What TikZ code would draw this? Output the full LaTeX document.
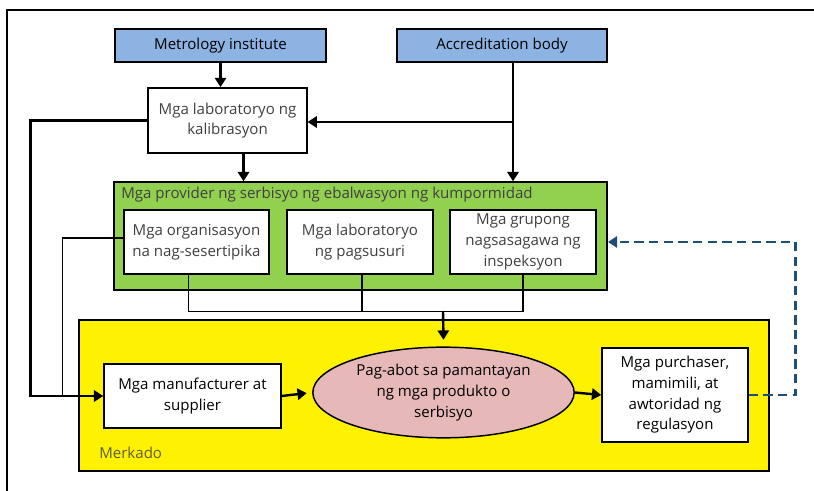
\documentclass[tikz,border=0pt]{standalone}
\usepackage{fontspec}
\setmainfont{Open Sans}
\usetikzlibrary{arrows.meta,positioning,shapes.geometric}
\definecolor{topblue}{HTML}{8DB3E2}
\definecolor{cabgreen}{HTML}{92D050}
\definecolor{ovalpink}{HTML}{E6B9B8}
\definecolor{dashblue}{HTML}{1F4E79}
\definecolor{txtgray}{HTML}{404040}
\begin{document}
\begin{tikzpicture}[x=0.75pt,y=-0.75pt,
    font=\fontsize{11.3}{15.5}\selectfont,
    topbox/.style={draw, line width=1.1pt, fill=topblue, minimum height=25pt},
    whitebox/.style={draw, line width=1.1pt, fill=white, align=center, text=txtgray, inner sep=2pt},
    arr/.style={line width=1.8pt, -{Triangle[length=7pt,width=8.5pt]}},
    joinline/.style={line width=1.1pt},
    dasharr/.style={dashblue, line width=1.9pt, dash pattern=on 7pt off 4pt, -{Triangle[length=7pt,width=8.5pt]}}]
    \useasboundingbox (0,0) rectangle (814,491);
    \fill[white] (0,0) rectangle (814,491);
    \draw[line width=0.8pt] (7,500) -- (7,10) -- (830,10);

    % top row
    \node[topbox, minimum width=158pt] (met) at (220.5,45.5) {Metrology institute};
    \node[topbox, minimum width=157.5pt] (acc) at (502,45.5) {Accreditation body};
    \node[whitebox, minimum width=119pt, minimum height=49pt] (cal) at (227.5,120.5) {Mga laboratoryo ng\\kalibrasyon};

    % provider group
    \node[draw, line width=1.1pt, fill=cabgreen, minimum width=370pt, minimum height=81pt] (prov) at (360.5,236) {};
    \node[anchor=west, text=txtgray, inner sep=0pt] (provtitle) at (121,195) {Mga provider ng serbisyo ng ebalwasyon ng kumpormidad};
    \node[whitebox, minimum width=109pt, minimum height=48pt] (org) at (196.5,242) {Mga organisasyon\\na nag-sesertipika};
    \node[whitebox, minimum width=109.5pt, minimum height=48pt] (test) at (360,242) {Mga laboratoryo\\ng pagsusuri};
    \node[whitebox, minimum width=109.5pt, minimum height=48pt] (insp) at (523,242) {Mga grupong\\nagsasagawa ng\\inspeksyon};

    % market
    \node[draw, line width=1.1pt, fill=yellow, minimum width=517.5pt, minimum height=113pt] (mkt) at (424,395.5) {};
    \node[anchor=west, text=txtgray!85!yellow, inner sep=0pt] (mktlabel) at (99,453) {Merkado};
    \node[whitebox, text=black, minimum width=132.75pt, minimum height=48pt] (manu) at (192.5,396) {Mga manufacturer at\\supplier};
    \node[ellipse, draw, line width=1.1pt, fill=ovalpink, align=center, inner sep=0pt,
          minimum width=196pt, minimum height=68pt] (oval) at (443.5,392.5) {Pag-abot sa pamantayan\\ng mga produkto o\\serbisyo};
    \node[whitebox, text=black, minimum width=109.5pt, minimum height=70.5pt] (purch) at (675,395) {Mga purchaser,\\mamimili, at\\awtoridad ng\\regulasyon};

    % connectors
    \coordinate (accj) at (513,122);
    \coordinate (bus) at (443,311);
    \draw[arr] (met.south) -- (met.south |- cal.north);
    \draw[line width=1.8pt] (acc.south -| accj) -- (accj);
    \draw[arr] (accj) -- (accj |- prov.north);
    \draw[arr] (accj) -- (accj -| cal.east);
    \draw[arr] ([xshift=12pt]cal.south) -- ([xshift=12pt]cal.south |- prov.north);
    \draw[arr] (cal.west) -- ++(-117,0) |- (manu.west);
    \draw[joinline] ([yshift=3pt]org.west) -| ([xshift=-30.75pt]manu.west);
    \draw[joinline] ([xshift=-6pt]org.south) -- ++(0,37) -| (insp.south);
    \draw[joinline] ([xshift=1.5pt]test.south) -- ++(0,37);
    \draw[arr] (bus) -- ([yshift=5pt]oval.north);
    \draw[arr, shorten >=4pt] (manu.east) -- (oval.west);
    \draw[arr] (oval.east) -- (purch.west);
    \draw[dasharr] (purch.east) -- ++(47,0) |- (prov.east |- insp.east);
\end{tikzpicture}
\end{document}
